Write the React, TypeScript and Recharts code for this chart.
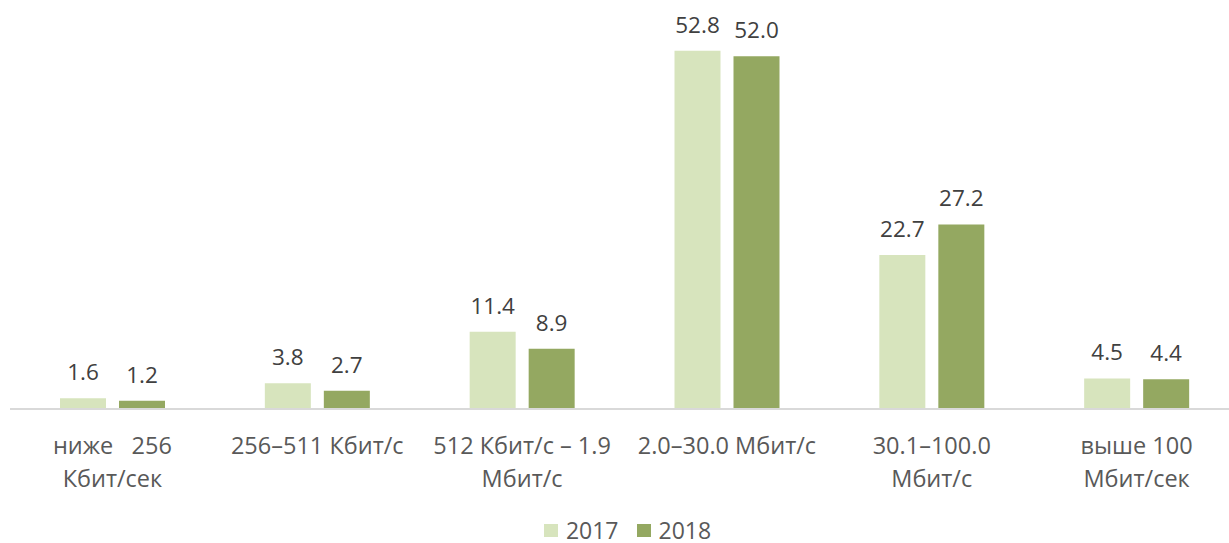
import { BarChart, Bar, XAxis, YAxis, Legend, LabelList } from "recharts";

const categories = ["below256", "256-511", "512-1.9", "2-30", "30-100", "above100"];
const tickLabels: string[][] = [
  ["ниже   256", "Кбит/сек"],
  ["256–511 Кбит/с"],
  ["512 Кбит/с – 1.9", "Мбит/с"],
  ["2.0–30.0 Мбит/с"],
  ["30.1–100.0", "Мбит/с"],
  ["выше 100", "Мбит/сек"],
];
const values2017 = [1.6, 3.8, 11.4, 52.8, 22.7, 4.5];
const values2018 = [1.2, 2.7, 8.9, 52.0, 27.2, 4.4];

const COLOR_2017 = "#d7e4bd";
const COLOR_2018 = "#94a861";
const FONT = "'Open Sans', sans-serif";

const data = categories.map((c, i) => ({
  cat: c,
  y2017: values2017[i],
  y2018: values2018[i],
}));

// multi-line category tick
function CategoryTick(props: any) {
  const { x, y, index } = props;
  const lines = tickLabels[index] ?? [];
  return (
    <g transform={`translate(${x},${y})`}>
      {lines.map((ln, i) => (
        <text
          key={i}
          x={0}
          y={37 + i * 33}
          textAnchor="middle"
          fill="#595959"
          fontSize={23.5}
          fontFamily={FONT}
          style={{ whiteSpace: "pre" }}
        >
          {ln}
        </text>
      ))}
    </g>
  );
}

function LegendContent() {
  const items = [
    { name: "2017", color: COLOR_2017 },
    { name: "2018", color: COLOR_2018 },
  ];
  return (
    <div
      style={{
        display: "flex",
        justifyContent: "center",
        gap: 18,
        height: 40,
        paddingTop: 15,
        paddingLeft: 26,
        boxSizing: "border-box",
        fontFamily: FONT,
        fontSize: 23,
        lineHeight: "21px",
        color: "#595959",
      }}
    >
      {items.map((it) => (
        <span key={it.name} style={{ display: "inline-flex", alignItems: "center", gap: 8 }}>
          <span style={{ width: 14, height: 13, background: it.color, display: "inline-block" }} />
          {it.name}
        </span>
      ))}
    </div>
  );
}

export default function App() {
  return (
    <div
      style={{
        position: "absolute",
        left: 0,
        top: 0,
        width: 1229,
        height: 543,
        overflow: "hidden",
        background: "#fff",
      }}
    >
      <BarChart
        width={1239}
        height={543}
        data={data}
        margin={{ top: 2, right: 0, left: 10, bottom: 0 }}
        barCategoryGap={50}
        barGap={13}
      >
        <XAxis
          dataKey="cat"
          tick={<CategoryTick />}
          tickLine={false}
          axisLine={{ stroke: "#d9d9d9", strokeWidth: 2 }}
          height={94}
          interval={0}
        />
        <YAxis hide domain={[0, 60]} />
        <Legend
          verticalAlign="bottom"
          height={40}
          content={<LegendContent />}
          wrapperStyle={{ width: 1229, left: 0 }}
        />
        <Bar dataKey="y2017" fill={COLOR_2017} barSize={46} isAnimationActive={false}>
          <LabelList
            dataKey="y2017"
            position="top"
            offset={18}
            formatter={(v: any) => Number(v).toFixed(1)}
            style={{ fill: "#404040", fontSize: 22.5, fontFamily: FONT }}
          />
        </Bar>
        <Bar dataKey="y2018" fill={COLOR_2018} barSize={46} isAnimationActive={false}>
          <LabelList
            dataKey="y2018"
            position="top"
            offset={18}
            formatter={(v: any) => Number(v).toFixed(1)}
            style={{ fill: "#404040", fontSize: 22.5, fontFamily: FONT }}
          />
        </Bar>
      </BarChart>
    </div>
  );
}
